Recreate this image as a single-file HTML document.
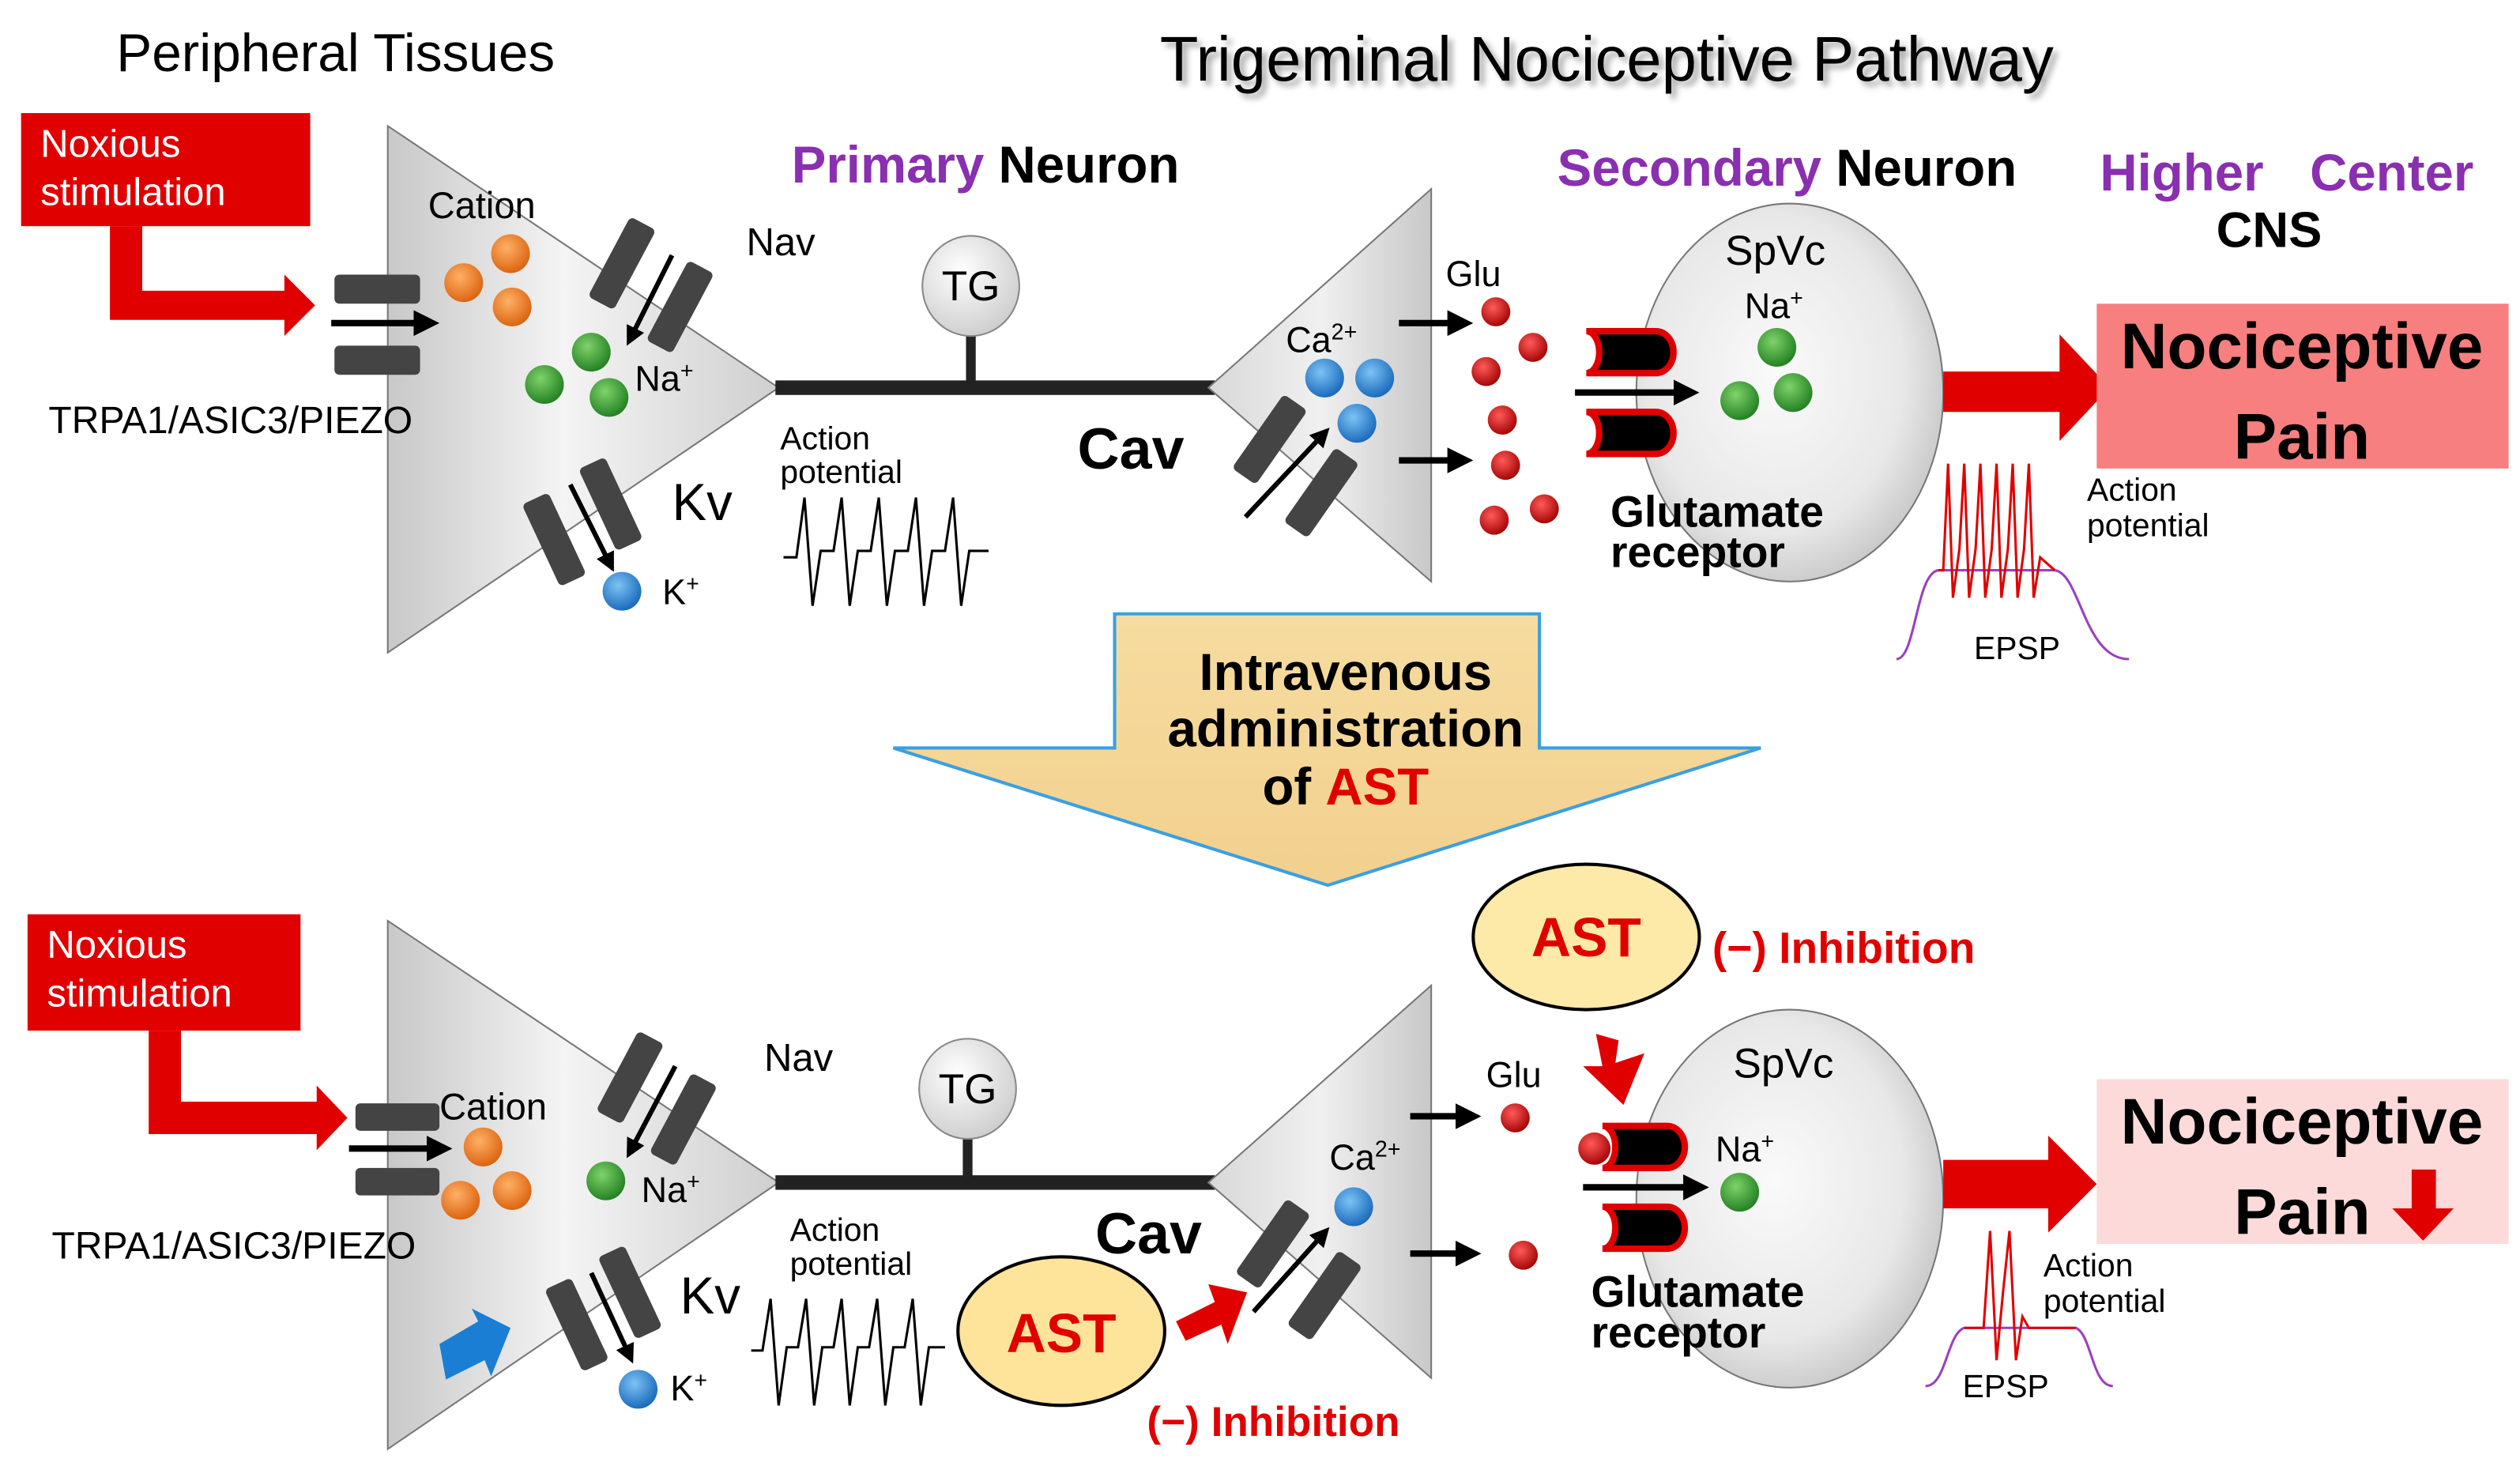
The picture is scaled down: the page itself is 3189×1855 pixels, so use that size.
<!DOCTYPE html>
<html><head><meta charset="utf-8"><style>
html,body{margin:0;padding:0;background:#fff;width:3189px;height:1855px;overflow:hidden}
svg{display:block}
text{font-family:"Liberation Sans",sans-serif}
</style></head><body>
<svg width="3189" height="1855" viewBox="0 0 1560 907.5" xmlns="http://www.w3.org/2000/svg">
<defs>
<linearGradient id="tri" x1="0" y1="0" x2="1" y2="0"><stop offset="0" stop-color="#c8c8c8"/><stop offset="0.45" stop-color="#f4f4f4"/><stop offset="1" stop-color="#cfcfcf"/></linearGradient>
<linearGradient id="tri2" x1="1" y1="0" x2="0" y2="0"><stop offset="0" stop-color="#c8c8c8"/><stop offset="0.5" stop-color="#f0f0f0"/><stop offset="1" stop-color="#d8d8d8"/></linearGradient>
<radialGradient id="ell" cx="0.45" cy="0.45" r="0.6"><stop offset="0" stop-color="#fafafa"/><stop offset="0.7" stop-color="#e8e8e8"/><stop offset="1" stop-color="#c4c4c4"/></radialGradient>
<radialGradient id="tg" cx="0.4" cy="0.35" r="0.7"><stop offset="0" stop-color="#fff"/><stop offset="1" stop-color="#ccc"/></radialGradient>
<radialGradient id="or" cx="0.4" cy="0.35" r="0.7"><stop offset="0" stop-color="#ffb066"/><stop offset="1" stop-color="#d9600c"/></radialGradient>
<radialGradient id="gr" cx="0.4" cy="0.35" r="0.7"><stop offset="0" stop-color="#7fd36b"/><stop offset="1" stop-color="#1e7c1e"/></radialGradient>
<radialGradient id="bl" cx="0.4" cy="0.35" r="0.7"><stop offset="0" stop-color="#7cc3f5"/><stop offset="1" stop-color="#1565b8"/></radialGradient>
<radialGradient id="rd" cx="0.4" cy="0.35" r="0.7"><stop offset="0" stop-color="#ff5a5a"/><stop offset="1" stop-color="#a00000"/></radialGradient>
<linearGradient id="tan" x1="0" y1="0" x2="0" y2="1"><stop offset="0" stop-color="#f6dca0"/><stop offset="1" stop-color="#f2d08e"/></linearGradient>
<marker id="ah" markerWidth="4" markerHeight="4" refX="2.5" refY="2" orient="auto" markerUnits="strokeWidth"><path d="M0,0 L4,2 L0,4 z" fill="#000"/></marker>
<filter id="sh" x="-5%" y="-20%" width="110%" height="150%"><feDropShadow dx="3" dy="3" stdDeviation="2" flood-color="#000" flood-opacity="0.35"/></filter>
</defs>

<!-- Titles -->
<text x="72" y="44" font-size="33">Peripheral Tissues</text>
<text x="718" y="50" font-size="39" filter="url(#sh)">Trigeminal Nociceptive Pathway</text>
<text x="490" y="113" font-size="32" font-weight="bold"><tspan fill="#8a2fb0">Primary</tspan> Neuron</text>
<text x="964" y="115" font-size="32" font-weight="bold"><tspan fill="#8a2fb0">Secondary</tspan> Neuron</text>
<text x="1300" y="118" font-size="32" font-weight="bold" fill="#8a2fb0">Higher</text>
<text x="1430" y="118" font-size="32" font-weight="bold" fill="#8a2fb0">Center</text>
<text x="1372" y="153" font-size="31" font-weight="bold">CNS</text>

<!-- ===== TOP ===== -->
<rect x="13" y="70" width="179" height="70" fill="#e00000"/>
<text x="25" y="97" font-size="24" fill="#fff">Noxious</text>
<text x="25" y="127" font-size="24" fill="#fff">stimulation</text>
<path d="M68,140 H88 V180 H176 V170 L195,189 L176,208 V198 H68 Z" fill="#e00000"/>
<polygon points="240,78 240,404 482,240" fill="url(#tri)" stroke="#777" stroke-width="1"/>
<rect x="207" y="170" width="53" height="18" rx="3" fill="#444"/>
<rect x="207" y="214" width="53" height="18" rx="3" fill="#444"/>
<line x1="205" y1="200" x2="266" y2="200" stroke="#000" stroke-width="4" marker-end="url(#ah)"/>
<text x="30" y="268" font-size="23.5">TRPA1/ASIC3/PIEZO</text>
<text x="265" y="135" font-size="23">Cation</text>
<circle cx="316" cy="157" r="12" fill="url(#or)"/><circle cx="287" cy="175" r="12" fill="url(#or)"/><circle cx="317" cy="190" r="12" fill="url(#or)"/>
<circle cx="366" cy="218" r="12" fill="url(#gr)"/><circle cx="337" cy="238" r="12" fill="url(#gr)"/><circle cx="377" cy="246" r="12" fill="url(#gr)"/>
<text x="393" y="242" font-size="22">Na<tspan dy="-8" font-size="14">+</tspan></text>
<g fill="#444"><rect x="-9" y="-28" width="18" height="56" rx="3" transform="translate(385,163) rotate(28)"/><rect x="-9" y="-28" width="18" height="56" rx="3" transform="translate(421,190) rotate(28)"/></g>
<line x1="416" y1="158" x2="390" y2="210" stroke="#000" stroke-width="3" marker-end="url(#ah)"/>
<text x="462" y="158" font-size="24">Nav</text>
<g fill="#444"><rect x="-9" y="-28" width="18" height="56" rx="3" transform="translate(343,334) rotate(-25)"/><rect x="-9" y="-28" width="18" height="56" rx="3" transform="translate(378,312) rotate(-25)"/></g>
<line x1="353" y1="300" x2="378" y2="350" stroke="#000" stroke-width="3" marker-end="url(#ah)"/>
<circle cx="385" cy="366" r="12" fill="url(#bl)"/>
<text x="410" y="374" font-size="22">K<tspan dy="-8" font-size="14">+</tspan></text>
<text x="416" y="322" font-size="32">Kv</text>
<line x1="480" y1="240" x2="752" y2="240" stroke="#222" stroke-width="9"/>
<line x1="601" y1="205" x2="601" y2="240" stroke="#222" stroke-width="6"/>
<ellipse cx="601" cy="177" rx="30" ry="31" fill="url(#tg)" stroke="#888"/>
<text x="601" y="186" font-size="26" text-anchor="middle">TG</text>
<text x="483" y="278" font-size="20">Action</text>
<text x="483" y="299" font-size="20">potential</text>
<path d="M485,345 H493 L498,308 L503,375 L508,341 H516 L521,308 L526,375 L531,341 H539 L544,308 L549,375 L554,341 H562 L567,308 L572,375 L577,341 H585 L590,308 L595,375 L600,341 H612" fill="none" stroke="#000" stroke-width="1.5"/>
<text x="667" y="290" font-size="36" font-weight="bold">Cav</text>
<polygon points="886,117 886,360 748,240" fill="url(#tri2)" stroke="#777" stroke-width="1"/>
<text x="796" y="218" font-size="22">Ca<tspan dy="-8" font-size="14">2+</tspan></text>
<circle cx="820" cy="234" r="12" fill="url(#bl)"/><circle cx="851" cy="234" r="12" fill="url(#bl)"/><circle cx="840" cy="262" r="12" fill="url(#bl)"/>
<g fill="#444"><rect x="-9" y="-28" width="18" height="56" rx="3" transform="translate(786,272) rotate(35)"/><rect x="-9" y="-28" width="18" height="56" rx="3" transform="translate(818,305) rotate(35)"/></g>
<line x1="771" y1="320" x2="820" y2="268" stroke="#000" stroke-width="3" marker-end="url(#ah)"/>
<text x="895" y="177" font-size="22">Glu</text>
<line x1="866" y1="200" x2="906" y2="200" stroke="#000" stroke-width="4" marker-end="url(#ah)"/>
<line x1="866" y1="285" x2="906" y2="285" stroke="#000" stroke-width="4" marker-end="url(#ah)"/>
<g fill="url(#rd)"><circle cx="926" cy="193" r="9"/><circle cx="949" cy="215" r="9"/><circle cx="920" cy="230" r="9"/><circle cx="930" cy="260" r="9"/><circle cx="932" cy="288" r="9"/><circle cx="925" cy="322" r="9"/><circle cx="956" cy="315" r="9"/></g>
<ellipse cx="1108" cy="243" rx="95" ry="117" fill="url(#ell)" stroke="#777"/>
<path d="M982,205 H1025 A11,13 0 0 1 1025,231 H982 A8,13 0 0 0 982,205 Z" fill="#000" stroke="#e00000" stroke-width="4"/>
<path d="M982,255 H1025 A11,13 0 0 1 1025,281 H982 A8,13 0 0 0 982,255 Z" fill="#000" stroke="#e00000" stroke-width="4"/>
<line x1="975" y1="243" x2="1046" y2="243" stroke="#000" stroke-width="4" marker-end="url(#ah)"/>
<text x="1068" y="164" font-size="26">SpVc</text>
<text x="1080" y="197" font-size="22">Na<tspan dy="-8" font-size="14">+</tspan></text>
<circle cx="1100" cy="215" r="12" fill="url(#gr)"/><circle cx="1077" cy="248" r="12" fill="url(#gr)"/><circle cx="1110" cy="243" r="12" fill="url(#gr)"/>
<text x="997" y="326" font-size="27" font-weight="bold">Glutamate</text>
<text x="997" y="351" font-size="27" font-weight="bold">receptor</text>
<path d="M1203,230 H1275 V207 L1306,240 L1275,273 V255 H1203 Z" fill="#e00000"/>
<rect x="1298" y="188" width="255" height="102" fill="#f77f7f"/>
<text x="1425" y="228" font-size="40" font-weight="bold" text-anchor="middle">Nociceptive</text>
<text x="1425" y="284" font-size="40" font-weight="bold" text-anchor="middle">Pain</text>
<path d="M1174,408 C1186,408 1186,355 1200,353 L1272,353 C1288,355 1290,408 1318,408" fill="none" stroke="#9b3fc0" stroke-width="1.5"/>
<path d="M1200,353 L1203,353 L1206,287 L1209,370 L1213,340 L1216,287 L1219,370 L1223,340 L1226,287 L1229,370 L1233,340 L1236,287 L1239,370 L1243,340 L1246,287 L1249,370 L1253,340 L1256,287 L1259,370 L1263,345 L1272,353" fill="none" stroke="#e00000" stroke-width="1.5"/>
<text x="1292" y="310" font-size="20">Action</text>
<text x="1292" y="332" font-size="20">potential</text>
<text x="1222" y="408" font-size="20">EPSP</text>

<!-- ===== MIDDLE ARROW ===== -->
<polygon points="690,380 953,380 953,463 1090,463 822,548 553,463 690,463" fill="url(#tan)" stroke="#3aa0e0" stroke-width="2"/>
<text x="833" y="427" font-size="32" font-weight="bold" text-anchor="middle">Intravenous</text>
<text x="833" y="462" font-size="32" font-weight="bold" text-anchor="middle">administration</text>
<text x="833" y="498" font-size="32" font-weight="bold" text-anchor="middle">of <tspan fill="#e00000">AST</tspan></text>

<!-- ===== BOTTOM ===== -->
<rect x="17" y="566" width="169" height="72" fill="#e00000"/>
<text x="29" y="593" font-size="24" fill="#fff">Noxious</text>
<text x="29" y="623" font-size="24" fill="#fff">stimulation</text>
<path d="M92,638 H112 V682 H196 V672 L215,692 L196,712 V702 H92 Z" fill="#e00000"/>
<polygon points="240,570 240,897 482,732" fill="url(#tri)" stroke="#777" stroke-width="1"/>
<rect x="220" y="683" width="52" height="17" rx="3" fill="#444"/>
<rect x="220" y="723" width="52" height="17" rx="3" fill="#444"/>
<line x1="216" y1="711" x2="274" y2="711" stroke="#000" stroke-width="4" marker-end="url(#ah)"/>
<text x="32" y="779" font-size="23.5">TRPA1/ASIC3/PIEZO</text>
<text x="272" y="693" font-size="23">Cation</text>
<circle cx="299" cy="710" r="12" fill="url(#or)"/><circle cx="285" cy="743" r="12" fill="url(#or)"/><circle cx="317" cy="737" r="12" fill="url(#or)"/>
<circle cx="375" cy="731" r="12" fill="url(#gr)"/>
<text x="397" y="744" font-size="22">Na<tspan dy="-8" font-size="14">+</tspan></text>
<g fill="#444"><rect x="-9" y="-28" width="18" height="56" rx="3" transform="translate(390,667) rotate(28)"/><rect x="-9" y="-28" width="18" height="56" rx="3" transform="translate(423,693) rotate(28)"/></g>
<line x1="418" y1="660" x2="390" y2="713" stroke="#000" stroke-width="3" marker-end="url(#ah)"/>
<text x="473" y="663" font-size="24">Nav</text>
<g fill="#444"><rect x="-9" y="-28" width="18" height="56" rx="3" transform="translate(357,820) rotate(-25)"/><rect x="-9" y="-28" width="18" height="56" rx="3" transform="translate(390,800) rotate(-25)"/></g>
<line x1="366" y1="788" x2="390" y2="840" stroke="#000" stroke-width="3" marker-end="url(#ah)"/>
<circle cx="395" cy="860" r="12" fill="url(#bl)"/>
<text x="415" y="867" font-size="22">K<tspan dy="-8" font-size="14">+</tspan></text>
<text x="421" y="813" font-size="32">Kv</text>
<path d="M272,832 L296,818 L292,810 L316,822 L304,852 L300,842 L276,854 Z" fill="#1a7fd4"/>
<line x1="480" y1="732" x2="752" y2="732" stroke="#222" stroke-width="9"/>
<line x1="599" y1="700" x2="599" y2="732" stroke="#222" stroke-width="6"/>
<ellipse cx="599" cy="674" rx="30" ry="31" fill="url(#tg)" stroke="#888"/>
<text x="599" y="683" font-size="26" text-anchor="middle">TG</text>
<text x="489" y="768" font-size="20">Action</text>
<text x="489" y="789" font-size="20">potential</text>
<path d="M465,836 H472 L477,804 L482,870 L487,834 H494 L499,804 L504,870 L509,834 H516 L521,804 L526,870 L531,834 H538 L543,804 L548,870 L553,834 H560 L565,804 L570,870 L575,834 H585" fill="none" stroke="#000" stroke-width="1.5"/>
<text x="678" y="776" font-size="36" font-weight="bold">Cav</text>
<ellipse cx="657" cy="824" rx="64" ry="46" fill="#fde49a" stroke="#000" stroke-width="2"/>
<text x="657" y="837" font-size="34" font-weight="bold" fill="#e00000" text-anchor="middle">AST</text>
<path d="M728,818 L752,806 L748,795 L772,800 L760,832 L756,820 L734,830 Z" fill="#e00000"/>
<text x="710" y="889" font-size="26" font-weight="bold" fill="#e00000">(−) Inhibition</text>
<polygon points="886,610 886,853 748,732" fill="url(#tri2)" stroke="#777" stroke-width="1"/>
<text x="823" y="724" font-size="22">Ca<tspan dy="-8" font-size="14">2+</tspan></text>
<circle cx="838" cy="747" r="12" fill="url(#bl)"/>
<g fill="#444"><rect x="-9" y="-28" width="18" height="56" rx="3" transform="translate(788,770) rotate(35)"/><rect x="-9" y="-28" width="18" height="56" rx="3" transform="translate(820,802) rotate(35)"/></g>
<line x1="776" y1="812" x2="820" y2="763" stroke="#000" stroke-width="3" marker-end="url(#ah)"/>
<text x="920" y="673" font-size="22">Glu</text>
<line x1="873" y1="691" x2="911" y2="691" stroke="#000" stroke-width="4" marker-end="url(#ah)"/>
<line x1="873" y1="776" x2="911" y2="776" stroke="#000" stroke-width="4" marker-end="url(#ah)"/>
<circle cx="938" cy="692" r="9" fill="url(#rd)"/><circle cx="943" cy="777" r="9" fill="url(#rd)"/>
<ellipse cx="982" cy="580" rx="70" ry="45" fill="#fde9a8" stroke="#000" stroke-width="2"/>
<text x="982" y="592" font-size="34" font-weight="bold" fill="#e00000" text-anchor="middle">AST</text>
<text x="1060" y="596" font-size="27" font-weight="bold" fill="#e00000">(−) Inhibition</text>
<ellipse cx="1108" cy="742" rx="95" ry="117" fill="url(#ell)" stroke="#777"/>
<path d="M988,640 L1002,644 L1000,658 L1018,652 L1005,684 L980,660 L992,660 Z" fill="#e00000"/>
<path d="M992,697 H1032 A11,13 0 0 1 1032,723 H992 A8,13 0 0 0 992,697 Z" fill="#000" stroke="#e00000" stroke-width="4"/>
<path d="M992,747 H1032 A11,13 0 0 1 1032,773 H992 A8,13 0 0 0 992,747 Z" fill="#000" stroke="#e00000" stroke-width="4"/>
<circle cx="987" cy="711" r="10" fill="url(#rd)"/>
<line x1="980" y1="735" x2="1052" y2="735" stroke="#000" stroke-width="4" marker-end="url(#ah)"/>
<text x="1073" y="667" font-size="26">SpVc</text>
<text x="1062" y="719" font-size="22">Na<tspan dy="-8" font-size="14">+</tspan></text>
<circle cx="1077" cy="738" r="12" fill="url(#gr)"/>
<text x="985" y="809" font-size="27" font-weight="bold">Glutamate</text>
<text x="985" y="834" font-size="27" font-weight="bold">receptor</text>
<path d="M1203,718 H1268 V703 L1298,733 L1268,763 V748 H1203 Z" fill="#e00000"/>
<rect x="1298" y="668" width="255" height="102" fill="#fcdada"/>
<text x="1425" y="708" font-size="40" font-weight="bold" text-anchor="middle">Nociceptive</text>
<text x="1383" y="764" font-size="40" font-weight="bold">Pain</text>
<path d="M1493,724 H1508 V748 H1519 L1500,768 L1481,748 H1493 Z" fill="#e00000"/>
<path d="M1192,858 C1205,858 1205,826 1216,822 L1285,822 C1295,826 1295,858 1308,858" fill="none" stroke="#9b3fc0" stroke-width="1.5"/>
<path d="M1216,822 L1228,822 L1232,762 L1236,842 L1240,800 L1244,762 L1248,842 L1252,815 L1256,822 L1285,822" fill="none" stroke="#e00000" stroke-width="1.5"/>
<text x="1265" y="790" font-size="20">Action</text>
<text x="1265" y="812" font-size="20">potential</text>
<text x="1215" y="865" font-size="20">EPSP</text>
</svg>
</body></html>
